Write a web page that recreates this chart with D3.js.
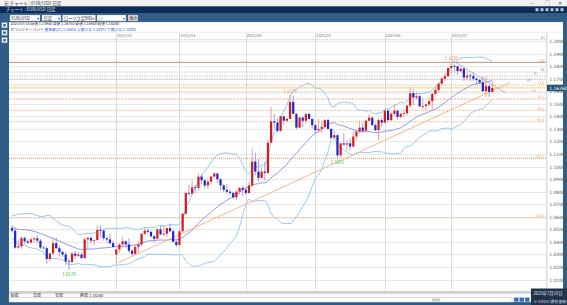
<!DOCTYPE html>
<html><head><meta charset="utf-8">
<script src="https://cdn.jsdelivr.net/npm/d3@7"></script>
<style>
html,body{margin:0;padding:0;background:#fff;overflow:hidden}
svg{display:block;font-family:"Noto Sans CJK JP","Noto Sans",sans-serif}
</style></head><body>
<svg id="c" width="567" height="305"></svg>
<script>
// ---------- DATA ----------
const firstDay = "2024-12-17", lastDay = "2025-07-18", closedDays = ["2024-12-25"];
const open = [1.0510,1.0490,1.0355,1.0365,1.0430,1.0405,1.0395,1.0420,1.0428,1.0410,
1.0355,1.0350,1.0265,1.0308,1.0390,1.0350,1.0320,1.0300,1.0245,1.0240,
1.0307,1.0290,1.0300,1.0272,1.0420,1.0432,1.0410,1.0415,1.0495,1.0490,
1.0430,1.0420,1.0390,1.0300,1.0340,1.0380,1.0405,1.0380,1.0330,1.0305,
1.0360,1.0380,1.0465,1.0490,1.0480,1.0445,1.0425,1.0500,1.0460,1.0465,
1.0510,1.0485,1.0400,1.0375,1.0485,1.0625,1.0790,1.0785,1.0835,1.0830,
1.0920,1.0890,1.0850,1.0880,1.0920,1.0945,1.0900,1.0850,1.0815,1.0800,
1.0790,1.0755,1.0800,1.0830,1.0815,1.0790,1.0850,1.1040,1.0960,1.0910,
1.0960,1.0950,1.1190,1.1360,1.1350,1.1285,1.1400,1.1365,1.1380,1.1515,
1.1420,1.1310,1.1390,1.1365,1.1420,1.1380,1.1330,1.1290,1.1300,1.1315,
1.1370,1.1300,1.1230,1.1250,1.1090,1.1185,1.1175,1.1185,1.1160,1.1240,
1.1280,1.1310,1.1285,1.1365,1.1390,1.1330,1.1290,1.1370,1.1350,1.1445,
1.1370,1.1420,1.1445,1.1395,1.1420,1.1425,1.1485,1.1585,1.1550,1.1560,
1.1480,1.1482,1.1495,1.1520,1.1580,1.1610,1.1660,1.1700,1.1720,1.1785,
1.1800,1.1798,1.1760,1.1780,1.1710,1.1725,1.1720,1.1700,1.1690,1.1670,
1.1600,1.1640,1.1595];
const high = [1.0535,1.0510,1.0420,1.0445,1.0445,1.0420,1.0430,1.0445,1.0455,1.0425,
1.0370,1.0365,1.0310,1.0435,1.0435,1.0370,1.0330,1.0320,1.0265,1.0320,
1.0330,1.0320,1.0315,1.0435,1.0440,1.0450,1.0420,1.0530,1.0530,1.0495,
1.0445,1.0465,1.0410,1.0345,1.0390,1.0440,1.0410,1.0430,1.0340,1.0375,
1.0410,1.0470,1.0515,1.0505,1.0490,1.0450,1.0505,1.0530,1.0530,1.0515,
1.0545,1.0500,1.0420,1.0500,1.0630,1.0800,1.0855,1.0890,1.0855,1.0945,
1.0945,1.0905,1.0905,1.0925,1.0955,1.0950,1.0905,1.0860,1.0860,1.0815,
1.0800,1.0815,1.0835,1.0850,1.0835,1.0880,1.1145,1.1110,1.1060,1.0995,
1.1040,1.1215,1.1475,1.1420,1.1385,1.1405,1.1405,1.1390,1.1573,1.1565,
1.1425,1.1400,1.1400,1.1420,1.1425,1.1380,1.1335,1.1380,1.1365,1.1380,
1.1385,1.1305,1.1290,1.1260,1.1190,1.1265,1.1215,1.1225,1.1285,1.1285,
1.1365,1.1345,1.1375,1.1420,1.1395,1.1345,1.1385,1.1390,1.1455,1.1455,
1.1435,1.1495,1.1455,1.1430,1.1450,1.1490,1.1630,1.1615,1.1595,1.1575,
1.1540,1.1500,1.1545,1.1585,1.1640,1.1665,1.1715,1.1745,1.1790,1.1830,
1.1810,1.1805,1.1790,1.1790,1.1760,1.1745,1.1750,1.1710,1.1700,1.1720,
1.1720,1.1655,1.1675];
const low = [1.0475,1.0345,1.0345,1.0345,1.0385,1.0380,1.0390,1.0395,1.0390,1.0345,
1.0345,1.0225,1.0240,1.0300,1.0345,1.0280,1.0280,1.0215,1.0178,1.0235,
1.0265,1.0275,1.0265,1.0265,1.0340,1.0390,1.0375,1.0410,1.0435,1.0410,
1.0395,1.0380,1.0355,1.0225,1.0310,1.0350,1.0350,1.0310,1.0285,1.0295,
1.0315,1.0365,1.0455,1.0465,1.0435,1.0400,1.0420,1.0455,1.0450,1.0440,
1.0475,1.0395,1.0360,1.0370,1.0480,1.0620,1.0765,1.0775,1.0790,1.0805,
1.0860,1.0825,1.0820,1.0860,1.0905,1.0870,1.0810,1.0795,1.0780,1.0775,
1.0745,1.0735,1.0780,1.0765,1.0775,1.0780,1.0840,1.0930,1.0880,1.0900,
1.0890,1.0940,1.1190,1.1300,1.1265,1.1275,1.1335,1.1355,1.1375,1.1415,
1.1295,1.1305,1.1315,1.1340,1.1370,1.1300,1.1265,1.1275,1.1265,1.1300,
1.1295,1.1220,1.1225,1.1065,1.1070,1.1170,1.1130,1.1130,1.1150,1.1210,
1.1260,1.1265,1.1280,1.1360,1.1325,1.1280,1.1210,1.1315,1.1345,1.1355,
1.1360,1.1400,1.1375,1.1385,1.1395,1.1405,1.1470,1.1490,1.1530,1.1475,
1.1455,1.1445,1.1480,1.1450,1.1570,1.1590,1.1640,1.1680,1.1710,1.1745,
1.1745,1.1730,1.1750,1.1680,1.1685,1.1680,1.1680,1.1655,1.1655,1.1595,
1.1555,1.1555,1.1590];
const close = [1.0490,1.0355,1.0365,1.0430,1.0405,1.0395,1.0420,1.0428,1.0410,1.0355,
1.0350,1.0265,1.0308,1.0390,1.0350,1.0320,1.0300,1.0245,1.0240,1.0307,
1.0290,1.0300,1.0272,1.0420,1.0432,1.0410,1.0415,1.0495,1.0490,1.0430,
1.0420,1.0390,1.0360,1.0340,1.0380,1.0405,1.0380,1.0330,1.0305,1.0360,
1.0380,1.0465,1.0490,1.0480,1.0445,1.0425,1.0500,1.0460,1.0465,1.0510,
1.0485,1.0400,1.0375,1.0485,1.0625,1.0790,1.0785,1.0835,1.0830,1.0920,
1.0890,1.0850,1.0880,1.0920,1.0945,1.0900,1.0850,1.0815,1.0800,1.0790,
1.0755,1.0800,1.0830,1.0815,1.0790,1.0850,1.1040,1.0960,1.0910,1.0960,
1.0950,1.1190,1.1360,1.1350,1.1285,1.1400,1.1365,1.1380,1.1515,1.1420,
1.1310,1.1390,1.1365,1.1420,1.1380,1.1330,1.1290,1.1300,1.1315,1.1370,
1.1300,1.1230,1.1250,1.1090,1.1185,1.1175,1.1185,1.1160,1.1240,1.1280,
1.1310,1.1285,1.1365,1.1390,1.1330,1.1290,1.1370,1.1350,1.1445,1.1370,
1.1420,1.1445,1.1395,1.1420,1.1425,1.1485,1.1585,1.1550,1.1560,1.1480,
1.1482,1.1495,1.1520,1.1580,1.1610,1.1660,1.1700,1.1720,1.1785,1.1800,
1.1798,1.1760,1.1780,1.1710,1.1725,1.1720,1.1700,1.1690,1.1670,1.1600,
1.1640,1.1595,1.1626];
// closes of the 20 sessions before the first visible candle (band warm-up)
const warmupClose = [1.0595,1.0545,1.0470,1.0420,1.0495,1.0490,1.0565,1.0555,1.0575,1.0500,
1.0510,1.0510,1.0585,1.0565,1.0555,1.0530,1.0495,1.0470,1.0500,1.0515];
const bbPeriod = 21, bbK = 2;
const priceTicks = [1.20,1.19,1.18,1.17,1.16,1.15,1.14,1.13,1.12,1.11,1.10,1.09,1.08,1.07,1.06,1.05,1.04,1.03,1.02,1.01];
const monthStarts = ["2025-02-03","2025-03-03","2025-04-01","2025-05-01","2025-06-02","2025-07-01"];
const monthLabels = ["2025/02","2025/03","2025/04","2025/05","2025/06","2025/07"];
const fibValues = [1.1830,1.1649,1.1538,1.1448,1.1357,1.1065,1.0592];
const fibLabels = ["0.0","23.6","38.2","50.0","61.8","100.0","161.8"];
const refValues = [1.2010,1.1753,1.1721,1.1697,1.1586];
const refLabels = ["R3","R2","R1","PP","S1"];
const markDates = ["2025-01-13","2025-04-21","2025-05-12","2025-07-01"];
const markValues = [1.0178,1.1573,1.1065,1.1830];
const markKinds = ["low","high","low","high"];
const trendUpIdx = [33.5,157.6], trendUpVal = [1.0233,1.1668];
const trendDnIdx = [139.2,156.0], trendDnVal = [1.1848,1.1590];

// ---------- BUILD ----------
const pad = n => String(n).padStart(2,"0");
const iso = d => d.getUTCFullYear()+"-"+pad(d.getUTCMonth()+1)+"-"+pad(d.getUTCDate());
const dates = [];
for (let d = new Date(firstDay+"T00:00:00Z"); iso(d) <= lastDay; d.setUTCDate(d.getUTCDate()+1)) {
  const wd = d.getUTCDay();
  if (wd === 0 || wd === 6 || closedDays.includes(iso(d))) continue;
  dates.push(iso(d));
}
const N = dates.length;
const bars = dates.map((d,i)=>({d,i,o:open[i],h:high[i],l:low[i],c:close[i]}));

const svg = d3.select("#c");
const PL = 9, PR = 546.5, PT = 32.5, PB = 291;
const step = 3.16, r0 = 10.42;
const x = d3.scaleBand().domain(dates).range([r0, r0 + step*N]).paddingInner(0.3).paddingOuter(0.15);
const cx = d => x(d) + x.bandwidth()/2;
const xi = d3.scaleLinear().domain([0, N-1]).range([cx(dates[0]), cx(dates[N-1])]);
const y = d3.scaleLinear().domain([1.01, 1.20]).range([279.6, 41]);
const f5 = d3.format(".5f"), f4 = d3.format(".4f");

// Bollinger
const allClose = warmupClose.concat(close);
const bb = close.map((c,i)=>{
  const w = allClose.slice(i + warmupClose.length - bbPeriod + 1, i + warmupClose.length + 1);
  const m = d3.mean(w), sd = Math.sqrt(d3.mean(w, v=>(v-m)*(v-m)));
  return {i, m, u:m+bbK*sd, l:m-bbK*sd};
});

// ---------- FRAME ----------
svg.append("rect").attr("width",567).attr("height",305).attr("fill","#2f5d88");
svg.append("rect").attr("x",0).attr("y",0).attr("width",567).attr("height",6.5).attr("fill","#f2f2f2");
svg.append("text").attr("x",4).attr("y",4.8).attr("font-size",4.6).attr("fill","#333").text("▣  チャート : EUR/USD 日足");
[["—",530],["▢",545],["✕",558]].forEach(([t,px])=>svg.append("text").attr("x",px).attr("y",5).attr("font-size",4.6).attr("fill","#444").text(t));
svg.append("rect").attr("x",0).attr("y",6.5).attr("width",567).attr("height",6.5).attr("fill","#0f2b55");
svg.append("text").attr("x",6).attr("y",11.3).attr("font-size",4.4).attr("fill","#e8eef6").text("チャート : EUR/USD 日足");
[537,542,547,552,557,562].forEach(px=>svg.append("rect").attr("x",px-1.5).attr("y",8.2).attr("width",3).attr("height",3).attr("fill","#b8c6d8"));
// toolbar
svg.append("rect").attr("x",0).attr("y",13).attr("width",567).attr("height",9).attr("fill","#2f5d88");
const boxes = [[10,40,"EUR/USD"],[42,61,"日足"],[62.5,95.5,"ローソク足BID"],[97,126,"  /  /  "]];
boxes.forEach(([a,b,t])=>{
  svg.append("rect").attr("x",a).attr("y",15).attr("width",b-a).attr("height",6).attr("fill","#fff").attr("stroke","#9aa8b8").attr("stroke-width",0.4);
  svg.append("text").attr("x",a+1.5).attr("y",19.6).attr("font-size",4.2).attr("fill","#222").text(t);
  svg.append("text").attr("x",b-3.5).attr("y",19.6).attr("font-size",3.6).attr("fill","#555").text("▾");
});
svg.append("rect").attr("x",128).attr("y",15).attr("width",10).attr("height",6).attr("fill","#e4e4e4").attr("stroke","#888").attr("stroke-width",0.4);
svg.append("text").attr("x",129.3).attr("y",19.6).attr("font-size",4).attr("fill","#222").text("表示");

// chart panel
svg.append("rect").attr("x",PL).attr("y",22).attr("width",563-PL).attr("height",PB-22).attr("fill","#fff");
const last = bars[N-1], lastBB = bb[N-1];
svg.append("text").attr("x",10.5).attr("y",25.3).attr("font-size",3.7).attr("fill","#222")
  .text("2025/07/18 始値 "+f5(last.o)+"  高値 "+f5(last.h)+"  安値 "+f5(last.l)+"  終値 "+f5(last.c));
const info2 = svg.append("text").attr("x",10.5).attr("y",30.9).attr("font-size",3.7);
info2.append("tspan").attr("fill","#222").text("ボリンジャーバンド ");
info2.append("tspan").attr("fill","#1a55e0").text("基準線(21) "+f5(lastBB.m)+" 上限(2.0) "+f5(lastBB.u)+" 下限(2.0) "+f5(lastBB.l));
svg.append("line").attr("x1",PL).attr("x2",563).attr("y1",22.3).attr("y2",22.3).attr("stroke","#c8c8c8").attr("stroke-width",0.5);
svg.append("line").attr("x1",PL).attr("x2",563).attr("y1",32.2).attr("y2",32.2).attr("stroke","#d4d4d4").attr("stroke-width",0.5);
// left buttons
[22.5,30,37.5].forEach(by=>{
  svg.append("rect").attr("x",1.8).attr("y",by).attr("width",5.4).attr("height",5.4).attr("fill","#e8edf3").attr("stroke","#7f93aa").attr("stroke-width",0.4);
  svg.append("rect").attr("x",3.3).attr("y",by+1.5).attr("width",2.4).attr("height",2.4).attr("fill","#2f5d88");
});

// ---------- PLOT ----------
const defs = svg.append("defs");
defs.append("clipPath").attr("id","pc").append("rect").attr("x",PL).attr("y",PT).attr("width",PR-PL).attr("height",PB-PT);
const g = svg.append("g").attr("clip-path","url(#pc)");

// gridlines
g.selectAll(".hg").data(priceTicks).join("line").attr("x1",PL).attr("x2",PR).attr("y1",d=>Math.round(y(d))+0.5).attr("y2",d=>Math.round(y(d))+0.5).attr("stroke","#e9e9e9").attr("stroke-width",1);
g.selectAll(".vg").data(monthStarts).join("line").attr("x1",d=>Math.round(cx(d))+0.5).attr("x2",d=>Math.round(cx(d))+0.5).attr("y1",PT).attr("y2",PB).attr("stroke","#dcdcdc").attr("stroke-width",1);

// reference (grey) levels
g.selectAll(".rl").data(refValues).join("line").attr("x1",PL).attr("x2",PR).attr("y1",d=>y(d)).attr("y2",d=>y(d)).attr("stroke","#b4b4b4").attr("stroke-width",0.7).attr("stroke-dasharray","1.5,1");
// fibonacci levels
const fibColor = (i)=> i===0 ? "#c98e70" : "#f3a874";
g.selectAll(".fl").data(fibValues).join("line").attr("x1",PL).attr("x2",PR).attr("y1",d=>y(d)).attr("y2",d=>y(d))
  .attr("stroke",(d,i)=>fibColor(i)).attr("stroke-width",(d,i)=> i===0?1:(i===5?1.4:0.9)).attr("stroke-dasharray",(d,i)=> i===0?null:(i===2?"2.5,1":"1,1"));
// current price line
g.append("line").attr("x1",PL).attr("x2",PR).attr("y1",y(last.c)).attr("y2",y(last.c)).attr("stroke","#fbd590").attr("stroke-width",1.3);

// Bollinger lines
const bl = key => d3.line().x(d=>cx(dates[d.i])).y(d=>y(d[key])).curve(d3.curveMonotoneX)(bb);
g.append("path").attr("d",bl("u")).attr("fill","none").attr("stroke","#86c2f2").attr("stroke-width",0.9);
g.append("path").attr("d",bl("l")).attr("fill","none").attr("stroke","#86c2f2").attr("stroke-width",0.9);
g.append("path").attr("d",bl("m")).attr("fill","none").attr("stroke","#7e8cf0").attr("stroke-width",0.9);

// trend lines
g.append("line").attr("x1",xi(trendUpIdx[0])).attr("y1",y(trendUpVal[0])).attr("x2",xi(trendUpIdx[1])).attr("y2",y(trendUpVal[1])).attr("stroke","#f6ae80").attr("stroke-width",0.9);
g.append("line").attr("x1",xi(trendDnIdx[0])).attr("y1",y(trendDnVal[0])).attr("x2",xi(trendDnIdx[1])).attr("y2",y(trendDnVal[1])).attr("stroke","#a9a9a9").attr("stroke-width",0.8);

// candles
const up = b => b.c >= b.o;
g.selectAll(".wk").data(bars).join("line").attr("x1",b=>cx(b.d)).attr("x2",b=>cx(b.d)).attr("y1",b=>y(b.h)).attr("y2",b=>y(b.l))
  .attr("stroke",b=>up(b)?"#ec8a8a":"#8a8ae6").attr("stroke-width",0.8);
g.selectAll(".bd").data(bars).join("rect").attr("x",b=>x(b.d)).attr("width",x.bandwidth())
  .attr("y",b=>y(Math.max(b.o,b.c))).attr("height",b=>Math.max(0.8, Math.abs(y(b.o)-y(b.c))))
  .attr("fill",b=>up(b)?"#d61c1c":"#2323c8");

// high / low marks
markDates.forEach((d,k)=>{
  const isH = markKinds[k]==="high";
  g.append("text").attr("x",cx(d)).attr("y", isH ? y(markValues[k])-2 : y(markValues[k])+5.8)
   .attr("text-anchor","middle").attr("font-size",4.4).attr("fill", isH?"#ef8b55":"#46b84a").text(f4(markValues[k]));
});

// level labels (small, staggered so they do not collide)
fibValues.forEach((v,i)=>svg.append("text").attr("x",544.5).attr("y",y(v)-0.8).attr("text-anchor","end").attr("font-size",3.6).attr("fill",fibColor(i)).text(fibLabels[i]));
const refX = [544.5,544.5,537.5,531,536];
const refDy = [-0.8,-0.6,-0.6,2.9,-0.8];
refValues.forEach((v,i)=>svg.append("text").attr("x",refX[i]).attr("y",y(v)+refDy[i]).attr("text-anchor","end").attr("font-size",3.2).attr("fill","#9a9a9a").text(refLabels[i]));

// month labels
monthStarts.forEach((d,k)=>svg.append("text").attr("x",cx(d)+0.8).attr("y",37).attr("font-size",4).attr("fill","#777").text(monthLabels[k]));

// separator & right axis
svg.append("line").attr("x1",PR+0.3).attr("x2",PR+0.3).attr("y1",PT).attr("y2",PB).attr("stroke","#bdbdbd").attr("stroke-width",0.8);
const ax = svg.append("g").attr("transform",`translate(${PR+0.5},0)`)
  .call(d3.axisRight(y).tickValues(priceTicks).tickSize(0).tickPadding(2.2).tickFormat(f5));
ax.select(".domain").remove();
ax.selectAll("text").attr("font-size",4.5).attr("fill","#555").attr("font-family","'DejaVu Sans',sans-serif");
// current price box
svg.append("rect").attr("x",547).attr("y",y(last.c)-3.3).attr("width",16.5).attr("height",6.6).attr("fill","#24506f");
svg.append("text").attr("x",549.2).attr("y",y(last.c)+1.6).attr("font-size",4.5).attr("fill","#fff").attr("font-family","'DejaVu Sans',sans-serif").text(f5(last.c));

// ---------- BOTTOM ----------
svg.append("rect").attr("x",PL).attr("y",PB).attr("width",563-PL).attr("height",2.2).attr("fill","#cfcfcf");
svg.append("rect").attr("x",PL).attr("y",293.2).attr("width",563-PL).attr("height",9).attr("fill","#fafafa");
[["始値",10.5],["高値",33],["安値",55],["終値 "+f5(last.c),80]].forEach(([t,px])=>svg.append("text").attr("x",px).attr("y",297).attr("font-size",4).attr("fill","#333").text(t));
svg.append("rect").attr("x",PL).attr("y",297.8).attr("width",503).attr("height",4.4).attr("fill","#fff").attr("stroke","#b0b0b0").attr("stroke-width",0.4);
svg.append("rect").attr("x",432).attr("y",298.6).attr("width",8).attr("height",2.8).attr("fill","#c8c8c8");
svg.append("rect").attr("x",0).attr("y",302.5).attr("width",567).attr("height",2.5).attr("fill","#2f5d88");
[514,519.5,525].forEach(px=>svg.append("rect").attr("x",px).attr("y",297.6).attr("width",4.5).attr("height",4.2).attr("fill","#3a6bb0").attr("stroke","#9fb8d8").attr("stroke-width",0.3));
svg.append("rect").attr("x",531).attr("y",288.5).attr("width",36).attr("height",16.5).attr("fill","#22324a");
svg.append("text").attr("x",533.5).attr("y",295.3).attr("font-size",4.2).attr("fill","#e6ebf2").text("2025年7月19日");
svg.append("text").attr("x",533.5).attr("y",302.6).attr("font-size",3.8).attr("fill","#d0d8e4").text("※ 0:00:0 (最終更新)");
</script>
</body></html>
